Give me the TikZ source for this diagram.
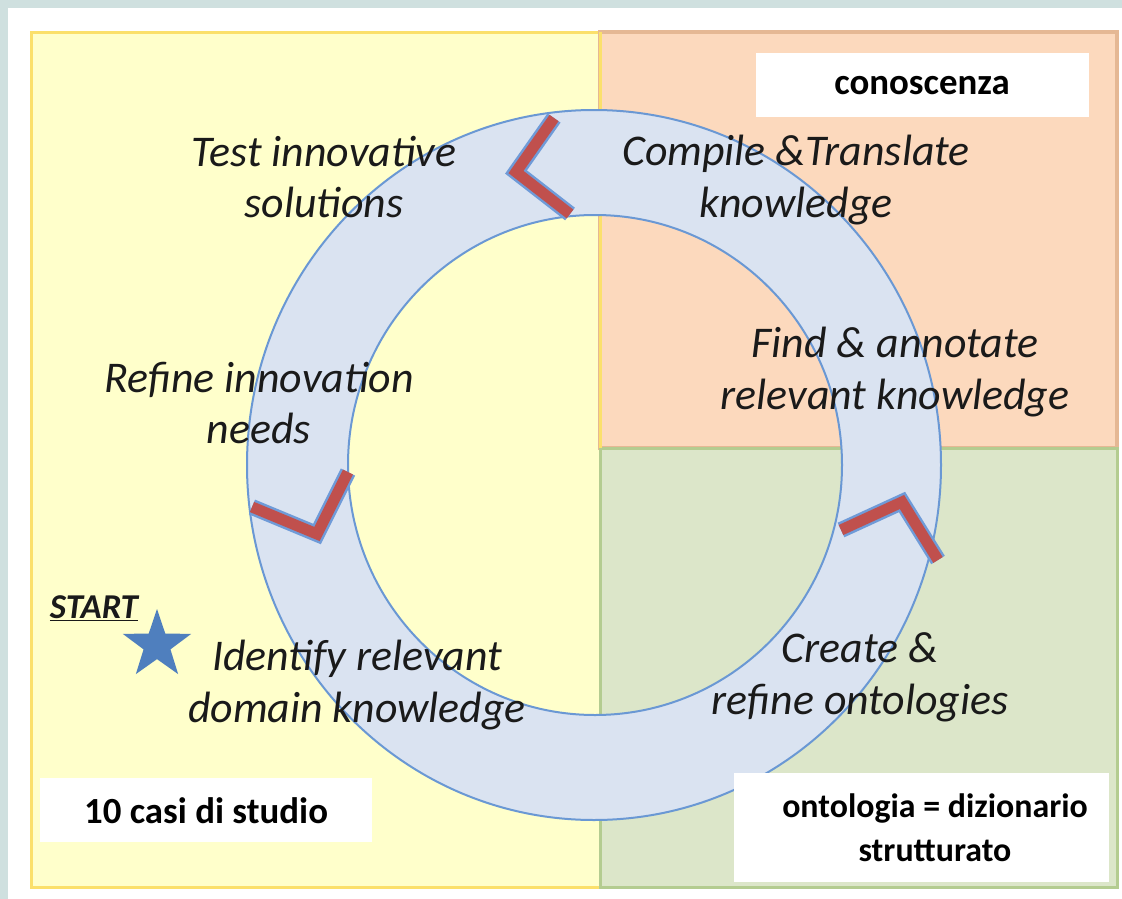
\documentclass[tikz,border=0pt]{standalone}
\usepackage{fontspec}
\setmainfont{Carlito}
\usetikzlibrary{shapes.geometric}
\definecolor{tealbg}{HTML}{CFE0DF}
\definecolor{yelfill}{HTML}{FFFFCB}
\definecolor{yelline}{HTML}{FBE06B}
\definecolor{orfill}{HTML}{FCD9BD}
\definecolor{orline}{HTML}{E5B894}
\definecolor{grfill}{HTML}{DCE6C9}
\definecolor{grline}{HTML}{B4CC90}
\definecolor{ringfill}{HTML}{DAE3F1}
\definecolor{ringline}{HTML}{6A98D4}
\definecolor{chevred}{HTML}{C0504D}
\definecolor{chevblue}{HTML}{6F9BD8}
\definecolor{starblue}{HTML}{4F7FBE}
\definecolor{textc}{HTML}{1A1A1A}
\tikzset{
  lab/.style={align=center, text=textc, font=\itshape\fontsize{44}{52}\selectfont, inner sep=0},
  boxlab/.style={align=center, text=black, font=\bfseries\fontsize{34}{44}\selectfont, inner sep=0},
  chevout/.style={draw=chevblue, line width=16bp, line join=miter},
  chevin/.style={draw=chevred, line width=11bp, line join=miter},
}
\begin{document}
\begin{tikzpicture}[x=1bp,y=-1bp]
\useasboundingbox (0,0) rectangle (1122,899);
\fill[white] (0,0) rectangle (1122,899);
\fill[tealbg] (0,0) rectangle (1122,8);
\fill[tealbg] (0,0) rectangle (8,899);
% panels
\filldraw[fill=yelfill, draw=yelline, line width=3bp] (31,32) rectangle (600,887);
\filldraw[fill=orfill, draw=orline, line width=3.5bp] (600,32) rectangle (1117,448);
\filldraw[fill=grfill, draw=grline, line width=3bp] (600,448) rectangle (1117,887);
\draw[yelline, line width=3bp] (600,32) -- (600,448);
% ring
\fill[ringfill, even odd rule] (594,465) ellipse [x radius=347, y radius=355] (595,465) ellipse [x radius=247, y radius=250];
\draw[ringline, line width=2bp] (594,465) ellipse [x radius=347, y radius=355];
\draw[ringline, line width=2bp] (595,465) ellipse [x radius=247, y radius=250];
% chevrons
\coordinate (c1a) at (554,118); \coordinate (c1b) at (516,172); \coordinate (c1c) at (570,214);
\coordinate (c2a) at (252,507); \coordinate (c2b) at (317,534); \coordinate (c2c) at (348,472);
\coordinate (c3a) at (841,530); \coordinate (c3b) at (902,502); \coordinate (c3c) at (938,560);
\draw[chevout] (c1a) -- (c1b) -- (c1c);
\draw[chevin] (c1a) -- (c1b) -- (c1c);
\draw[chevout] (c2a) -- (c2b) -- (c2c);
\draw[chevin] (c2a) -- (c2b) -- (c2c);
\draw[chevout] (c3a) -- (c3b) -- (c3c);
\draw[chevin] (c3a) -- (c3b) -- (c3c);
% labels
\node[lab] (test) at (324,177) {Test innovative\\solutions};
\node[lab] (compile) at (796,180) {Compile \&Translate\\knowledge};
\node[lab] (find) at (895,372) {Find \& annotate\\relevant knowledge};
\node[lab] (refine) at (259,403) {Refine innovation\\needs};
\node[lab] (create) at (860,677) {Create \&\\refine ontologies};
\node[lab] (identify) at (357,685) {Identify relevant\\domain knowledge};
% start
\node[star, star points=5, star point ratio=2.55, fill=starblue, minimum size=72bp, inner sep=0] (star) at (157,645) {};
\node[text=textc, font=\bfseries\itshape\fontsize{35}{38}\selectfont, inner sep=0] (start) at (94,608) {\underline{START}};
% boxes
\fill[white] (756,53) rectangle (1089,117);
\node[boxlab, font=\bfseries\fontsize{37}{44}\selectfont] (conosc) at (922,86) {conoscenza};
\fill[white] (40,778) rectangle (372,842);
\node[boxlab, font=\bfseries\fontsize{37}{44}\selectfont] (casi) at (206,811) {10 casi di studio};
\fill[white] (734,773) rectangle (1109,882);
\node[boxlab] (onto) at (935,828) {ontologia = dizionario\\strutturato};
\end{tikzpicture}
\end{document}
